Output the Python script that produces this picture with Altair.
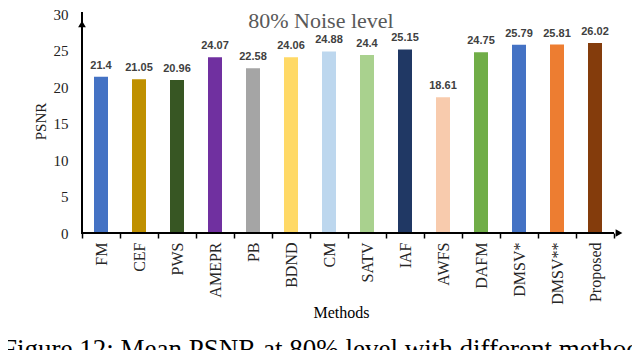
import altair as alt
import pandas as pd

methods = ["FM", "CEF", "PWS", "AMEPR", "PB", "BDND", "CM", "SATV", "IAF",
           "AWFS", "DAFM", "DMSV*", "DMSV**", "Proposed"]
psnr = [21.4, 21.05, 20.96, 24.07, 22.58, 24.06, 24.88, 24.4, 25.15,
        18.61, 24.75, 25.79, 25.81, 26.02]
value_labels = ["21.4", "21.05", "20.96", "24.07", "22.58", "24.06", "24.88",
                "24.4", "25.15", "18.61", "24.75", "25.79", "25.81", "26.02"]
colors = ["#4472C4", "#BF9000", "#375623", "#7030A0", "#A5A5A5", "#FFD966",
          "#BDD7EE", "#A9D18E", "#203864", "#F8CBAD", "#70AD47", "#4472C4",
          "#ED7D31", "#843C0C"]
y_ticks = [0, 5, 10, 15, 20, 25, 30]
title_text = "80% Noise level"
caption_text = "Figure 12: Mean PSNR at 80% level with different methods"

W, H = 532, 219

df = pd.DataFrame({"method": methods, "psnr": psnr, "color": colors,
                   "label": value_labels})

x = alt.X("method:N", sort=methods,
          scale=alt.Scale(paddingInner=0, paddingOuter=0),
          axis=alt.Axis(title="Methods", labelAngle=-90, domain=False,
                        ticks=True, tickBand="extent", tickColor="black",
                        tickSize=5, tickWidth=1.5, labelPadding=4,
                        labelFont="Liberation Serif", labelFontSize=16,
                        labelColor="#262626", titleFont="Liberation Serif",
                        titleFontSize=16, titleFontWeight="normal",
                        titleColor="black", titleX=259, titleY=79,
                        titleAlign="center", titleBaseline="middle"))
y = alt.Y("psnr:Q", scale=alt.Scale(domain=[0, 30], nice=False),
          axis=alt.Axis(values=y_ticks, title="PSNR", domain=False,
                        ticks=False, grid=False, labelPadding=14,
                        labelFont="Liberation Serif", labelFontSize=15,
                        labelColor="#222222", titleFont="Liberation Serif",
                        titleFontSize=15, titleFontWeight="normal",
                        titleColor="#222222", titleX=-42, titleY=107,
                        titleAngle=270, titleAlign="center",
                        titleBaseline="middle"))

base = alt.Chart(df)
bars = base.mark_bar(size=14).encode(
    x=x, y=y, color=alt.Color("color:N", scale=None))
labels = base.mark_text(dy=-8, baseline="alphabetic", font="Liberation Sans",
                        fontSize=11, fontWeight="bold", color="#404040").encode(
    x=x, y=y, text="label:N")

one = pd.DataFrame({"a": [0]})
yline = alt.Chart(one).mark_rule(color="black", strokeWidth=2).encode(
    x=alt.value(0), y=alt.value(-2), y2=alt.value(H + 1))
xline = alt.Chart(one).mark_rule(color="black", strokeWidth=2).encode(
    x=alt.value(-1), x2=alt.value(W), y=alt.value(H))
yarrow = alt.Chart(one).mark_point(shape="triangle-up", filled=True,
                                   color="black", size=60, opacity=1).encode(
    x=alt.value(0), y=alt.value(10))
xarrow = alt.Chart(one).mark_point(shape="triangle-right", filled=True,
                                   color="black", size=60, opacity=1).encode(
    x=alt.value(W + 5), y=alt.value(H))

title = alt.Chart(pd.DataFrame({"t": [title_text]})).mark_text(
    font="Liberation Serif", fontSize=22, color="#595959", align="center",
    baseline="alphabetic").encode(x=alt.value(239), y=alt.value(14), text="t:N")
caption = alt.Chart(pd.DataFrame({"t": [caption_text]})).mark_text(
    font="Liberation Serif", fontSize=27, color="black", align="left",
    baseline="alphabetic").encode(x=alt.value(-80), y=alt.value(344), text="t:N")

chart = alt.layer(bars, labels, yline, xline, yarrow, xarrow, title, caption).properties(
    width=W, height=H,
    padding={"left": 74, "top": 6, "right": 18, "bottom": 117},
    autosize=alt.AutoSizeParams(type="none"),
    background="white",
).configure_view(stroke=None)

chart.save("out.html", embed_options={"renderer": "svg", "actions": False})
